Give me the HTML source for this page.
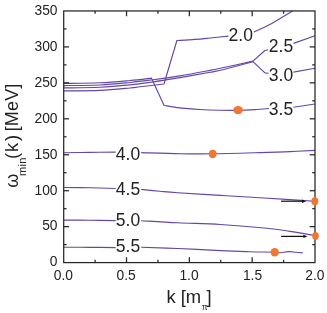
<!DOCTYPE html>
<html><head><meta charset="utf-8">
<style>
html,body{margin:0;padding:0;background:#fff;}
body{width:327px;height:313px;overflow:hidden;}
svg{display:block;will-change:transform;}
text{font-family:"Liberation Sans",sans-serif;fill:#222;}
.tk{font-size:13.8px;}
.lb{font-size:17.5px;}
.c{fill:none;stroke:#6446a8;stroke-width:1.15;stroke-linejoin:round;stroke-linecap:butt;}
.ax{stroke:#262626;stroke-width:1.25;fill:none;}
.dot{fill:#f0772f;}
</style></head><body>
<svg width="327" height="313" viewBox="0 0 327 313">
<rect width="327" height="313" fill="#fff"/>
<g class="c">
<path d="M63.70,83.40 C69.75,83.30 88.95,83.28 100.00,82.80 C111.05,82.32 121.43,81.28 130.00,80.50 C138.57,79.72 147.83,78.50 151.40,78.10 L151.40,78.10 L164.00,105.30 L164.00,105.30 C166.67,105.73 174.00,107.20 180.00,107.90 C186.00,108.60 193.33,109.12 200.00,109.50 C206.67,109.88 213.67,110.07 220.00,110.20 C226.33,110.33 232.17,110.40 238.00,110.30 C243.83,110.20 249.83,109.90 255.00,109.60 C260.17,109.30 266.67,108.68 269.00,108.50"/>
<path d="M293.50,107.20 L315.00,104.00"/>
<path d="M63.70,85.60 C69.75,85.50 88.95,85.52 100.00,85.00 C111.05,84.48 121.50,83.33 130.00,82.50 C138.50,81.67 142.67,81.10 151.00,80.00 C159.33,78.90 170.17,77.50 180.00,75.90 C189.83,74.30 202.50,71.83 210.00,70.40 C217.50,68.97 217.83,68.85 225.00,67.30 C232.17,65.75 248.33,62.13 253.00,61.10 L253.00,61.10 L264.90,50.50 L268.30,49.80"/>
<path d="M293.50,43.40 L315.00,35.70"/>
<path d="M63.70,87.90 C69.75,87.80 88.95,87.80 100.00,87.30 C111.05,86.80 121.50,85.75 130.00,84.90 C138.50,84.05 142.67,83.42 151.00,82.20 C159.33,80.98 170.17,79.25 180.00,77.60 C189.83,75.95 202.50,73.70 210.00,72.30 C217.50,70.90 217.83,70.97 225.00,69.20 C232.17,67.43 248.33,62.95 253.00,61.70 L253.00,61.70 L264.90,72.90 L268.50,73.30"/>
<path d="M293.50,72.10 L315.00,68.30"/>
<path d="M63.70,90.90 C69.75,90.82 88.95,90.88 100.00,90.40 C111.05,89.92 123.33,88.60 130.00,88.00 C136.67,87.40 134.33,87.47 140.00,86.80 C145.67,86.13 160.00,84.47 164.00,84.00 L164.00,84.00 L176.90,40.50 L176.90,40.50 C179.92,40.32 189.48,39.82 195.00,39.40 C200.52,38.98 204.43,38.55 210.00,38.00 C215.57,37.45 225.33,36.42 228.40,36.10"/>
<path d="M253.90,31.90 C255.95,30.97 262.02,28.42 266.20,26.30 C270.38,24.18 274.62,21.75 279.00,19.20 C283.38,16.65 290.25,12.37 292.50,11.00"/>
<path d="M63.70,152.80 C68.08,152.73 81.33,152.52 90.00,152.40 C98.67,152.28 111.42,152.15 115.70,152.10"/>
<path d="M141.20,152.60 C147.67,152.78 168.12,153.50 180.00,153.70 C191.88,153.90 199.17,153.98 212.50,153.80 C225.83,153.62 247.08,152.97 260.00,152.60 C272.92,152.23 280.83,151.97 290.00,151.60 C299.17,151.23 310.83,150.60 315.00,150.40"/>
<path d="M63.70,187.50 C68.08,187.55 81.33,187.63 90.00,187.80 C98.67,187.97 111.42,188.38 115.70,188.50"/>
<path d="M141.20,189.40 C144.33,189.72 153.90,190.73 160.00,191.30 C166.10,191.87 167.70,192.12 177.80,192.80 C187.90,193.48 206.90,194.58 220.60,195.40 C234.30,196.22 248.43,197.00 260.00,197.70 C271.57,198.40 280.83,199.00 290.00,199.60 C299.17,200.20 310.83,201.02 315.00,201.30"/>
<path d="M63.70,220.10 C68.08,220.12 81.33,220.12 90.00,220.20 C98.67,220.28 111.42,220.53 115.70,220.60"/>
<path d="M141.20,220.70 C147.30,221.05 164.57,222.17 177.80,222.80 C191.03,223.43 205.73,223.60 220.60,224.50 C235.47,225.40 255.43,227.05 267.00,228.20 C278.57,229.35 281.92,230.15 290.00,231.40 C298.08,232.65 311.25,234.98 315.50,235.70"/>
<path d="M63.70,247.20 C68.08,247.22 81.33,247.23 90.00,247.30 C98.67,247.37 111.42,247.55 115.70,247.60"/>
<path d="M141.20,247.20 C147.30,247.42 164.57,247.93 177.80,248.50 C191.03,249.07 208.57,250.07 220.60,250.60 C232.63,251.13 240.98,251.43 250.00,251.70 C259.02,251.97 269.87,252.02 274.70,252.20 C279.53,252.38 276.62,252.90 279.00,252.80 C281.38,252.70 286.17,251.68 289.00,251.60 C291.83,251.52 293.70,252.08 296.00,252.30 C298.30,252.52 301.67,252.80 302.80,252.90"/>
</g>
<rect class="ax" x="63.70" y="10.95" width="251.30" height="251.65"/>
<g class="ax">
<line x1="63.70" y1="244.63" x2="66.50" y2="244.63"/>
<line x1="315.00" y1="244.63" x2="312.20" y2="244.63"/>
<line x1="63.70" y1="226.65" x2="69.00" y2="226.65"/>
<line x1="315.00" y1="226.65" x2="309.70" y2="226.65"/>
<line x1="63.70" y1="208.68" x2="66.50" y2="208.68"/>
<line x1="315.00" y1="208.68" x2="312.20" y2="208.68"/>
<line x1="63.70" y1="190.70" x2="69.00" y2="190.70"/>
<line x1="315.00" y1="190.70" x2="309.70" y2="190.70"/>
<line x1="63.70" y1="172.73" x2="66.50" y2="172.73"/>
<line x1="315.00" y1="172.73" x2="312.20" y2="172.73"/>
<line x1="63.70" y1="154.75" x2="69.00" y2="154.75"/>
<line x1="315.00" y1="154.75" x2="309.70" y2="154.75"/>
<line x1="63.70" y1="136.78" x2="66.50" y2="136.78"/>
<line x1="315.00" y1="136.78" x2="312.20" y2="136.78"/>
<line x1="63.70" y1="118.80" x2="69.00" y2="118.80"/>
<line x1="315.00" y1="118.80" x2="309.70" y2="118.80"/>
<line x1="63.70" y1="100.82" x2="66.50" y2="100.82"/>
<line x1="315.00" y1="100.82" x2="312.20" y2="100.82"/>
<line x1="63.70" y1="82.85" x2="69.00" y2="82.85"/>
<line x1="315.00" y1="82.85" x2="309.70" y2="82.85"/>
<line x1="63.70" y1="64.87" x2="66.50" y2="64.87"/>
<line x1="315.00" y1="64.87" x2="312.20" y2="64.87"/>
<line x1="63.70" y1="46.90" x2="69.00" y2="46.90"/>
<line x1="315.00" y1="46.90" x2="309.70" y2="46.90"/>
<line x1="63.70" y1="28.93" x2="66.50" y2="28.93"/>
<line x1="315.00" y1="28.93" x2="312.20" y2="28.93"/>
<line x1="95.11" y1="262.60" x2="95.11" y2="259.80"/>
<line x1="95.11" y1="10.95" x2="95.11" y2="13.75"/>
<line x1="126.53" y1="262.60" x2="126.53" y2="257.30"/>
<line x1="126.53" y1="10.95" x2="126.53" y2="16.25"/>
<line x1="157.94" y1="262.60" x2="157.94" y2="259.80"/>
<line x1="157.94" y1="10.95" x2="157.94" y2="13.75"/>
<line x1="189.35" y1="262.60" x2="189.35" y2="257.30"/>
<line x1="189.35" y1="10.95" x2="189.35" y2="16.25"/>
<line x1="220.76" y1="262.60" x2="220.76" y2="259.80"/>
<line x1="220.76" y1="10.95" x2="220.76" y2="13.75"/>
<line x1="252.18" y1="262.60" x2="252.18" y2="257.30"/>
<line x1="252.18" y1="10.95" x2="252.18" y2="16.25"/>
<line x1="283.59" y1="262.60" x2="283.59" y2="259.80"/>
<line x1="283.59" y1="10.95" x2="283.59" y2="13.75"/>
</g>
<ellipse class="dot" cx="238.1" cy="110.1" rx="4.8" ry="4.0"/>
<ellipse class="dot" cx="212.7" cy="154.0" rx="3.9" ry="4.15"/>
<ellipse class="dot" cx="314.8" cy="201.3" rx="3.5" ry="4.1"/>
<ellipse class="dot" cx="315.5" cy="236.0" rx="3.3" ry="4.05"/>
<ellipse class="dot" cx="274.7" cy="252.2" rx="4.2" ry="4.3"/>
<g stroke="#111" stroke-width="1.25" fill="#111">
<line x1="281.1" y1="201.2" x2="303" y2="201.2"/>
<path d="M306,201.2 L302,199.5 L302,202.9 Z" stroke="none"/>
<line x1="281.1" y1="236.4" x2="304.4" y2="236.4"/>
<path d="M307.4,236.4 L303.4,234.7 L303.4,238.1 Z" stroke="none"/>
</g>
<g class="lb">
<text x="228.6" y="41">2.0</text>
<text x="268.8" y="52.4">2.5</text>
<text x="268.8" y="80.5">3.0</text>
<text x="268.8" y="114.7">3.5</text>
<text x="115.8" y="159.8">4.0</text>
<text x="115.8" y="194.7">4.5</text>
<text x="115.8" y="225.6">5.0</text>
<text x="115.8" y="252.4">5.5</text>
</g>
<g class="tk" text-anchor="end">
<text x="57.5" y="15.0">350</text>
<text x="57.5" y="50.9">300</text>
<text x="57.5" y="86.8">250</text>
<text x="57.5" y="122.7">200</text>
<text x="57.5" y="158.6">150</text>
<text x="57.5" y="194.5">100</text>
<text x="57.5" y="230.4">50</text>
<text x="57.5" y="266.3">0</text>
</g>
<g class="tk" text-anchor="middle">
<text x="63.4" y="279.7">0.0</text>
<text x="126.2" y="279.7">0.5</text>
<text x="189.0" y="279.7">1.0</text>
<text x="252.5" y="279.7">1.5</text>
<text x="314.8" y="279.7">2.0</text>
</g>
<text x="166.4" y="302.6" style="font-size:18.4px">k [m<tspan style="font-size:8.5px" dy="7.8" dx="0.5">π</tspan><tspan dy="-7.8" dx="-1.0">]</tspan></text>
<g transform="translate(18.0,187.8) rotate(-90)">
<text x="0" y="0" style="font-size:18px">ω</text>
<text x="11.7" y="8.2" style="font-size:11px;letter-spacing:0.35px">min</text>
<text x="28.7" y="0" style="font-size:18.5px">(</text>
<text x="35.8" y="0" style="font-size:18.5px">k</text>
<text x="46.7" y="0" style="font-size:18.5px">)</text>
<text x="56.5" y="0" style="font-size:18px;letter-spacing:0.15px">[MeV]</text>
</g>
</svg>
</body></html>
